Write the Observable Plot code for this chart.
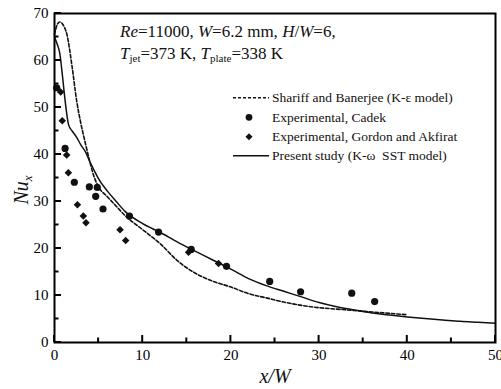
<!DOCTYPE html>
<html><head><meta charset="utf-8">
<script src="https://cdn.jsdelivr.net/npm/d3@7"></script>
<script src="https://cdn.jsdelivr.net/npm/@observablehq/plot@0.6"></script>
<style>
body{margin:0;background:#fff;}
</style>
</head><body><div id="chart"></div>
<script>
// Present study (K-ω SST)
const sstX = [0,0.3,0.6,0.8,1.0,1.2,1.4,1.6,2,2.5,3,3.5,4,4.5,5,6,7,8,10,12,14,16,18,20,22,24,26,28,30,32,34,36,38,40,42,44,46,48,50];
const sstY = [65,63.5,61.5,58.5,55,51.5,48.5,46.3,45,43.7,42,40.6,38.5,36.6,34.8,32.2,30,27.9,25.3,23.4,21.3,19.4,17.5,15.6,13.6,12.1,10.9,9.7,8.5,7.6,6.9,6.3,5.85,5.45,5.1,4.8,4.5,4.3,4.1];
// Shariff and Banerjee (K-ε)
const sbX = [0,0.3,0.6,1.0,1.4,2.0,2.5,3.0,3.5,4.0,4.5,5,6,7,8,10,12,14,16,18,20,22,24,26,28,30,32,34,36,38,40];
const sbY = [65.5,67.6,68.2,67.5,65.6,58.6,51.6,46.5,42.4,38.5,35.2,33.1,31,29,27,24,21,17.3,14.7,13,11.8,10.4,9.5,8.6,7.9,7.4,7.1,6.8,6.5,6.2,5.9];
// Experimental, Cadek
const cadekX = [0.25,1.2,2.25,3.95,4.85,4.67,5.5,8.5,11.8,15.5,19.5,24.4,27.9,33.7,36.3];
const cadekY = [54.2,41.3,34.1,33.1,33.0,31.1,28.4,26.9,23.5,19.8,16.2,13.0,10.8,10.5,8.7];
// Experimental, Gordon and Akfirat
const gordonX = [0.7,0.88,1.38,1.57,2.6,3.27,3.57,7.43,8.07,15.2,18.6];
const gordonY = [53.3,47.2,39.9,36.1,29.3,26.9,25.5,24.0,21.7,19.2,16.8];

const xMajor = [0,10,20,30,40,50];
const xMinor = [5,15,25,35,45];
const yMajor = [0,10,20,30,40,50,60,70];
const yMinor = [5,15,25,35,45,55,65];

const W = 501, H = 389;
const mL = 54, mR = 6, mT = 13, mB = 47;

const sst = sstX.map((x,i)=>({x, y:sstY[i]}));
const sb = sbX.map((x,i)=>({x, y:sbY[i]}));
const cadek = cadekX.map((x,i)=>({x, y:cadekY[i]}));
const gordon = gordonX.map((x,i)=>({x, y:gordonY[i]}));
const ink = "#111";
const edge = "black";

const plot = Plot.plot({
  width: W, height: H,
  marginLeft: mL, marginRight: mR, marginTop: mT, marginBottom: mB,
  style: {fontFamily: '"Liberation Serif","Times New Roman",serif', background: "white"},
  x: {domain: [0,50]},
  y: {domain: [0,70]},
  marks: [
    Plot.axisX({ticks: xMajor, tickSize: 0, tickPadding: 7, fontSize: 15, label: null}),
    Plot.axisY({ticks: yMajor, tickSize: 0, tickPadding: 6, fontSize: 15, label: null}),
    Plot.line(sb, {x:"x", y:"y", stroke:ink, strokeWidth:1.6, strokeDasharray:"3.5,2", curve:"monotone-x"}),
    Plot.line(sst, {x:"x", y:"y", stroke:ink, strokeWidth:1.5, curve:"monotone-x"}),
    Plot.dot(cadek, {x:"x", y:"y", r:3.6, fill:ink}),
    Plot.dot(gordon, {x:"x", y:"y", r:3.4, symbol:"diamond2", fill:ink}),
    Plot.frame({stroke: edge, strokeWidth: 2})
  ]
});
document.getElementById("chart").append(plot);

const svg = d3.select(plot);
const sx = plot.scale("x"), sy = plot.scale("y");
const X = v => sx.apply(v), Y = v => sy.apply(v);
const x0 = X(0), y0 = Y(0);
const ff = '"Liberation Serif","Times New Roman",serif';

// Inward ticks, positioned through Plot's scales
xMajor.forEach(v => svg.append("line").attr("x1",X(v)).attr("x2",X(v)).attr("y1",y0).attr("y2",y0-7).attr("stroke",edge).attr("stroke-width",2));
xMinor.forEach(v => svg.append("line").attr("x1",X(v)).attr("x2",X(v)).attr("y1",y0).attr("y2",y0-4.5).attr("stroke",edge).attr("stroke-width",2));
yMajor.forEach(v => svg.append("line").attr("x1",x0).attr("x2",x0+7).attr("y1",Y(v)).attr("y2",Y(v)).attr("stroke",edge).attr("stroke-width",2));
yMinor.forEach(v => svg.append("line").attr("x1",x0).attr("x2",x0+4.5).attr("y1",Y(v)).attr("y2",Y(v)).attr("stroke",edge).attr("stroke-width",2));

// Y label
const yl = svg.append("text").attr("transform","translate(28,190) rotate(-90)")
  .attr("text-anchor","middle").attr("font-size",20).attr("font-family",ff).attr("fill",ink);
yl.append("tspan").attr("font-style","italic").text("Nu");
yl.append("tspan").attr("font-style","italic").attr("font-size",13).attr("dy",4).text("x");
// X label
svg.append("text").attr("x",275).attr("y",383).attr("text-anchor","middle")
  .attr("font-size",20).attr("font-style","italic").attr("font-family",ff).attr("fill",ink).text("x/W");

// Annotation
const a1 = svg.append("text").attr("x",120).attr("y",37).attr("text-anchor","start").attr("font-size",17).attr("font-family",ff).attr("fill",ink);
a1.append("tspan").attr("font-style","italic").text("Re");
a1.append("tspan").text("=11000, ");
a1.append("tspan").attr("font-style","italic").text("W");
a1.append("tspan").text("=6.2 mm, ");
a1.append("tspan").attr("font-style","italic").text("H");
a1.append("tspan").text("/");
a1.append("tspan").attr("font-style","italic").text("W");
a1.append("tspan").text("=6,");
const a2 = svg.append("text").attr("x",120).attr("y",59).attr("text-anchor","start").attr("font-size",17).attr("font-family",ff).attr("fill",ink);
a2.append("tspan").attr("font-style","italic").text("T");
a2.append("tspan").attr("font-size",11).attr("dy",3).text("jet");
a2.append("tspan").attr("dy",-3).text("=373 K, ");
a2.append("tspan").attr("font-style","italic").text("T");
a2.append("tspan").attr("font-size",11).attr("dy",3).text("plate");
a2.append("tspan").attr("dy",-3).text("=338 K");

// Legend
const legendLabels = ["Shariff and Banerjee (K-\u03B5 model)","Experimental, Cadek","Experimental, Gordon and Akfirat","Present study (K-\u03C9  SST model)"];
const ly = [97.7,117.3,136.7,155.7];
const lg = svg.append("g").attr("font-family",ff).attr("font-size",13.5).attr("fill",ink).attr("text-anchor","start");
lg.append("line").attr("x1",233).attr("x2",269).attr("y1",ly[0]).attr("y2",ly[0]).attr("stroke",ink).attr("stroke-width",1.5).attr("stroke-dasharray","3,2");
lg.append("circle").attr("cx",249).attr("cy",ly[1]).attr("r",3.4).attr("fill",ink);
lg.append("path").attr("d",d3.symbol(d3.symbolDiamond2, Math.PI*3.2*3.2)()).attr("transform",`translate(249,${ly[2]})`).attr("fill",ink);
lg.append("line").attr("x1",233).attr("x2",269).attr("y1",ly[3]).attr("y2",ly[3]).attr("stroke",ink).attr("stroke-width",1.5);
legendLabels.forEach((t,i)=>{
  lg.append("text").attr("x",272).attr("y",ly[i]).attr("dy","0.35em").style("white-space","pre").text(t);
});
</script>
</body></html>
